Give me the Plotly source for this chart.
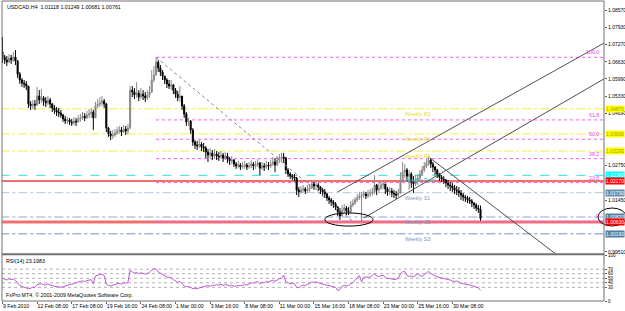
import plotly.graph_objects as go

# ---------------- data ----------------
date_labels = ["9 Feb 2010", "12 Feb 08:00", "17 Feb 08:00", "19 Feb 16:00", "24 Feb 08:00",
               "1 Mar 00:00", "3 Mar 16:00", "8 Mar 08:00", "11 Mar 00:00", "15 Mar 16:00",
               "18 Mar 08:00", "23 Mar 00:00", "25 Mar 16:00", "30 Mar 08:00"]
date_label_bars = [0, 16, 32, 48, 64, 80, 96, 112, 128, 144, 160, 176, 192, 208]

price_ticks = [1.08570, 1.07930, 1.07270, 1.06630, 1.05990, 1.05330, 1.04690, 1.02750, 1.01450, 0.99510]

first_open = 1.0700
last_open = 1.01118

closes = [
    1.0681, 1.0670, 1.0662, 1.0677, 1.0670, 1.0681, 1.0666, 1.0617, 1.0595, 1.0584,
    1.0580, 1.0572, 1.0505, 1.0498, 1.0505, 1.0501, 1.0535, 1.0520, 1.0528, 1.0516,
    1.0509, 1.0520, 1.0505, 1.0490, 1.0483, 1.0475, 1.0471, 1.0464, 1.0449, 1.0441,
    1.0445, 1.0438, 1.0434, 1.0441, 1.0438, 1.0449, 1.0453, 1.0460, 1.0453, 1.0464,
    1.0468, 1.0475, 1.0453, 1.0498, 1.0505, 1.0509, 1.0516, 1.0505, 1.0415, 1.0393,
    1.0385, 1.0389, 1.0396, 1.0404, 1.0408, 1.0400, 1.0411, 1.0404, 1.0415, 1.0557,
    1.0550, 1.0539, 1.0546, 1.0531, 1.0542, 1.0535, 1.0528, 1.0539, 1.0550, 1.0595,
    1.0614, 1.0662, 1.0640, 1.0625, 1.0610, 1.0595, 1.0580, 1.0572, 1.0576, 1.0557,
    1.0542, 1.0528, 1.0535, 1.0498, 1.0468, 1.0438, 1.0441, 1.0408, 1.0363, 1.0352,
    1.0348, 1.0355, 1.0344, 1.0340, 1.0325, 1.0314, 1.0322, 1.0310, 1.0318, 1.0310,
    1.0307, 1.0314, 1.0303, 1.0310, 1.0299, 1.0292, 1.0295, 1.0280, 1.0273, 1.0277,
    1.0269, 1.0273, 1.0277, 1.0269, 1.0273, 1.0280, 1.0273, 1.0277, 1.0284, 1.0265,
    1.0273, 1.0269, 1.0277, 1.0273, 1.0280, 1.0288, 1.0277, 1.0295, 1.0303, 1.0307,
    1.0303, 1.0258, 1.0243, 1.0235, 1.0232, 1.0228, 1.0183, 1.0176, 1.0183, 1.0187,
    1.0179, 1.0187, 1.0191, 1.0206, 1.0198, 1.0202, 1.0194, 1.0183, 1.0176, 1.0168,
    1.0153, 1.0146, 1.0138, 1.0131, 1.0119, 1.0101, 1.0086, 1.0108, 1.0116, 1.0104,
    1.0101, 1.0127, 1.0134, 1.0146, 1.0153, 1.0161, 1.0164, 1.0168, 1.0161, 1.0168,
    1.0172, 1.0176, 1.0202, 1.0183, 1.0191, 1.0202, 1.0206, 1.0187, 1.0176, 1.0179,
    1.0172, 1.0168, 1.0164, 1.0172, 1.0221, 1.0250, 1.0258, 1.0235, 1.0243, 1.0213,
    1.0206, 1.0221, 1.0228, 1.0243, 1.0258, 1.0273, 1.0284, 1.0295, 1.0280, 1.0269,
    1.0258, 1.0243, 1.0232, 1.0224, 1.0221, 1.0209, 1.0202, 1.0198, 1.0191, 1.0183,
    1.0179, 1.0172, 1.0164, 1.0157, 1.0153, 1.0146, 1.0142, 1.0134, 1.0127, 1.0116,
    1.0112, 1.00761]

highs = [
    1.0756, 1.0689, 1.0685, 1.0692, 1.0689, 1.0700, 1.0707, 1.0670, 1.0625, 1.0602,
    1.0595, 1.0591, 1.0572, 1.0516, 1.0520, 1.0520, 1.0569, 1.0557, 1.0561, 1.0535,
    1.0531, 1.0535, 1.0528, 1.0509, 1.0501, 1.0494, 1.0490, 1.0483, 1.0468, 1.0460,
    1.0456, 1.0453, 1.0449, 1.0456, 1.0453, 1.0464, 1.0468, 1.0475, 1.0471, 1.0479,
    1.0486, 1.0490, 1.0483, 1.0513, 1.0524, 1.0531, 1.0535, 1.0524, 1.0509, 1.0419,
    1.0404, 1.0408, 1.0411, 1.0419, 1.0423, 1.0419, 1.0426, 1.0423, 1.0430, 1.0572,
    1.0572, 1.0565, 1.0587, 1.0557, 1.0565, 1.0557, 1.0550, 1.0557, 1.0572, 1.0632,
    1.0647, 1.0680, 1.0670, 1.0651, 1.0632, 1.0610, 1.0602, 1.0595, 1.0595, 1.0580,
    1.0565, 1.0554, 1.0572, 1.0535, 1.0505, 1.0475, 1.0453, 1.0445, 1.0415, 1.0370,
    1.0367, 1.0370, 1.0363, 1.0359, 1.0348, 1.0337, 1.0340, 1.0333, 1.0337, 1.0329,
    1.0325, 1.0329, 1.0322, 1.0325, 1.0322, 1.0307, 1.0310, 1.0299, 1.0288, 1.0292,
    1.0284, 1.0288, 1.0292, 1.0284, 1.0288, 1.0295, 1.0288, 1.0292, 1.0299, 1.0288,
    1.0288, 1.0284, 1.0292, 1.0288, 1.0295, 1.0307, 1.0303, 1.0310, 1.0318, 1.0322,
    1.0322, 1.0307, 1.0265, 1.0250, 1.0243, 1.0243, 1.0232, 1.0194, 1.0198, 1.0202,
    1.0194, 1.0202, 1.0206, 1.0221, 1.0213, 1.0217, 1.0209, 1.0198, 1.0191, 1.0187,
    1.0172, 1.0161, 1.0153, 1.0146, 1.0138, 1.0123, 1.0116, 1.0127, 1.0131, 1.0123,
    1.0119, 1.0142, 1.0149, 1.0157, 1.0168, 1.0176, 1.0176, 1.0179, 1.0176, 1.0183,
    1.0187, 1.0191, 1.0239, 1.0206, 1.0209, 1.0217, 1.0217, 1.0206, 1.0194, 1.0194,
    1.0191, 1.0183, 1.0179, 1.0187, 1.0250, 1.0288, 1.0280, 1.0265, 1.0258, 1.0250,
    1.0235, 1.0239, 1.0243, 1.0258, 1.0273, 1.0288, 1.0299, 1.0307, 1.0303, 1.0288,
    1.0273, 1.0262, 1.0247, 1.0239, 1.0235, 1.0224, 1.0221, 1.0213, 1.0209, 1.0202,
    1.0198, 1.0194, 1.0183, 1.0172, 1.0164, 1.0161, 1.0157, 1.0149, 1.0138, 1.0134,
    1.0127, 1.01249]

lows = [
    1.0659, 1.0655, 1.0647, 1.0659, 1.0655, 1.0662, 1.0651, 1.0602, 1.0580, 1.0569,
    1.0565, 1.0557, 1.0490, 1.0483, 1.0486, 1.0483, 1.0498, 1.0505, 1.0509, 1.0498,
    1.0494, 1.0501, 1.0490, 1.0475, 1.0468, 1.0460, 1.0456, 1.0453, 1.0438, 1.0430,
    1.0430, 1.0426, 1.0423, 1.0426, 1.0423, 1.0434, 1.0438, 1.0445, 1.0441, 1.0449,
    1.0453, 1.0453, 1.0408, 1.0453, 1.0490, 1.0494, 1.0498, 1.0490, 1.0400, 1.0382,
    1.0370, 1.0374, 1.0382, 1.0389, 1.0393, 1.0385, 1.0396, 1.0389, 1.0393, 1.0411,
    1.0531, 1.0524, 1.0528, 1.0516, 1.0524, 1.0520, 1.0513, 1.0520, 1.0528, 1.0546,
    1.0587, 1.0610, 1.0625, 1.0610, 1.0595, 1.0580, 1.0565, 1.0561, 1.0557, 1.0542,
    1.0528, 1.0516, 1.0513, 1.0483, 1.0453, 1.0423, 1.0423, 1.0393, 1.0348, 1.0337,
    1.0333, 1.0340, 1.0329, 1.0325, 1.0303, 1.0288, 1.0303, 1.0295, 1.0299, 1.0295,
    1.0292, 1.0299, 1.0288, 1.0295, 1.0284, 1.0277, 1.0280, 1.0269, 1.0262, 1.0265,
    1.0258, 1.0262, 1.0262, 1.0258, 1.0262, 1.0265, 1.0258, 1.0262, 1.0269, 1.0239,
    1.0258, 1.0254, 1.0262, 1.0258, 1.0265, 1.0273, 1.0250, 1.0273, 1.0284, 1.0288,
    1.0284, 1.0243, 1.0232, 1.0224, 1.0221, 1.0217, 1.0164, 1.0157, 1.0168, 1.0172,
    1.0168, 1.0172, 1.0176, 1.0187, 1.0183, 1.0183, 1.0179, 1.0168, 1.0161, 1.0153,
    1.0142, 1.0131, 1.0123, 1.0116, 1.0108, 1.0086, 1.0071, 1.0084, 1.0097, 1.0089,
    1.0089, 1.0098, 1.0119, 1.0127, 1.0138, 1.0146, 1.0063, 1.0153, 1.0149, 1.0153,
    1.0157, 1.0161, 1.0168, 1.0164, 1.0172, 1.0183, 1.0187, 1.0168, 1.0161, 1.0164,
    1.0157, 1.0153, 1.0149, 1.0157, 1.0168, 1.0213, 1.0228, 1.0213, 1.0183, 1.0191,
    1.0172, 1.0198, 1.0202, 1.0221, 1.0235, 1.0250, 1.0265, 1.0273, 1.0265, 1.0250,
    1.0239, 1.0228, 1.0217, 1.0213, 1.0206, 1.0194, 1.0187, 1.0179, 1.0176, 1.0168,
    1.0164, 1.0157, 1.0146, 1.0142, 1.0138, 1.0134, 1.0131, 1.0119, 1.0112, 1.0104,
    1.0097, 1.00681]

rsi = [
    50, 48, 46, 49, 47, 48, 45, 40, 34, 32,
    30, 29, 27, 28, 30, 30, 36, 37, 38, 36,
    35, 38, 35, 34, 32, 32, 31, 30, 31, 33,
    35, 36, 37, 38, 40, 42, 43, 44, 43, 45,
    46, 47, 38, 55, 57, 58, 59, 56, 37, 34,
    33, 35, 37, 38, 39, 37, 40, 39, 41, 68,
    64, 61, 63, 60, 62, 60, 59, 61, 63, 68,
    71, 70, 64, 61, 58, 56, 53, 52, 51, 47,
    44, 41, 43, 37, 33, 31, 32, 30, 27, 28,
    27, 29, 30, 31, 33, 34, 32, 35, 34, 36,
    35, 37, 34, 36, 35, 33, 35, 32, 33, 34,
    33, 35, 36, 35, 37, 40, 39, 41, 43, 38,
    41, 40, 43, 42, 44, 46, 43, 47, 49, 50,
    57, 42, 40, 38, 39, 38, 30, 29, 33, 35,
    34, 37, 38, 42, 41, 42, 40, 38, 37, 36,
    35, 33, 32, 31, 30, 23, 25, 32, 34, 33,
    34, 38, 40, 46, 50, 56, 42, 52, 53, 52,
    53, 56, 61, 55, 54, 56, 57, 52, 49, 50,
    48, 47, 48, 50, 60, 64, 65, 56, 54, 55,
    53, 57, 60, 56, 54, 58, 62, 65, 61, 57,
    55, 53, 52, 51, 50, 48, 47, 46, 44, 43,
    44, 41, 39, 38, 37, 36, 36, 34, 32, 30,
    29, 23.1983]

rsi_levels = [30, 40, 50, 60, 70]
rsi_ticks = [0, 30, 40, 50, 60, 70, 100]

# Fibonacci retracement (anchor bars and prices)
fib_bars = [71, 162]
fib_prices = [1.0680, 1.0066]
fib_levels = [0.0, 23.6, 38.2, 50.0, 61.8, 100.0]
fib_texts = ["0", "23.6", "38.2", "50.0", "61.8", "100.0"]

# Weekly pivots
pivot_names = ["Weekly R3", "Weekly R2", "Weekly R1", "Weekly Pivot", "Weekly S1", "Weekly S2", "Weekly S3"]
pivot_prices = [1.0487, 1.0393, 1.0329, 1.0238, 1.0173, 1.0082, 1.0019]
pivot_label_text = ["1.04870", "1.03930", "1.03290", "1.02380", "1.01730", "1.00820", "1.00190"]

# horizontal red lines
red_prices = [1.0217, 1.0063]
red_label_text = ["1.02170", "1.00630"]

# trend channel & trendline anchors
chan_up_bars = [155, 278.1]
chan_up_prices = [1.0176, 1.0733]
chan_lo_bars = [167, 278.1]
chan_lo_prices = [1.0078, 1.0599]
down_bars = [197, 262]
down_prices = [1.0307, 0.9905]
ellipse_bars = [149, 171.3]
ellipse_prices = [1.0048, 1.0097]

# ---------------- figure ----------------
n = len(closes)
bars = list(range(n))
opens = [first_open] + closes[:-1]
opens[-1] = last_open

FONT = "Liberation Sans"
TXT = 5.3
fig = go.Figure()

fig.add_trace(go.Candlestick(
    x=bars, open=opens, high=highs, low=lows, close=closes,
    increasing=dict(line=dict(color="#8a8a8a", width=1), fillcolor="#8a8a8a"),
    decreasing=dict(line=dict(color="#000000", width=1), fillcolor="#000000"),
    whiskerwidth=0, xaxis="x", yaxis="y", hoverinfo="skip", showlegend=False))

XMAX = 278.1
shapes = []

# pivot lines
piv_colors = ["#eeee44", "#eeee44", "#eeee44", "#33dddd", "#b4c8dc", "#8fa9c6", "#6f96cc"]
piv_dash = ["dashdot", "dashdot", "dashdot", "dash", "dashdot", "dashdot", "dashdot"]
for p, c, d in zip(pivot_prices, piv_colors, piv_dash):
    shapes.append(dict(type="line", xref="x", yref="y", x0=-1, x1=XMAX, y0=p, y1=p,
                       line=dict(color=c, width=1, dash=d), layer="below"))
# red lines
for p, w in zip(red_prices, [2, 3]):
    shapes.append(dict(type="line", xref="x", yref="y", x0=-1, x1=XMAX, y0=p, y1=p,
                       line=dict(color="#f07070", width=w), layer="below"))
# fib levels
fib_range = fib_prices[0] - fib_prices[1]
for lv in fib_levels:
    p = fib_prices[1] + fib_range * lv / 100.0
    shapes.append(dict(type="line", xref="x", yref="y", x0=fib_bars[0], x1=XMAX, y0=p, y1=p,
                       line=dict(color="#f060f0", width=1, dash="dot"), layer="below"))
# RSI levels
for lv in rsi_levels:
    shapes.append(dict(type="line", xref="paper", yref="y2", x0=0, x1=1, y0=lv, y1=lv,
                       line=dict(color="#b0b0b0", width=1, dash="dot"), layer="below"))
# ellipses
shapes.append(dict(type="circle", xref="x", yref="y", x0=ellipse_bars[0], x1=ellipse_bars[1],
                   y0=ellipse_prices[0], y1=ellipse_prices[1], line=dict(color="#000000", width=1)))
shapes.append(dict(type="circle", xref="paper", yref="paper", x0=0.990, x1=1.037,
                   y0=0.250, y1=0.310, line=dict(color="#000000", width=1)))
# frame and separator
shapes.append(dict(type="rect", xref="paper", yref="paper", x0=0, x1=1, y0=0, y1=1,
                   line=dict(color="#707070", width=1)))
shapes.append(dict(type="line", xref="paper", yref="paper", x0=0, x1=1, y0=0.1555, y1=0.1555,
                   line=dict(color="#707070", width=2)))

# trend lines
fig.add_trace(go.Scatter(x=fib_bars, y=fib_prices, mode="lines", xaxis="x", yaxis="y",
                         line=dict(color="#8080a8", width=1, dash="dot"), hoverinfo="skip", showlegend=False))
for bx, py in [(chan_up_bars, chan_up_prices), (chan_lo_bars, chan_lo_prices), (down_bars, down_prices)]:
    fig.add_trace(go.Scatter(x=bx, y=py, mode="lines", xaxis="x", yaxis="y",
                             line=dict(color="#505050", width=1), hoverinfo="skip", showlegend=False))

# RSI
fig.add_trace(go.Scatter(x=bars, y=rsi, mode="lines", xaxis="x2", yaxis="y2",
                         line=dict(color="#c455d8", width=1), hoverinfo="skip", showlegend=False))

ann = []
ann.append(dict(text="USDCAD,H4  1.01118 1.01249 1.00681 1.00761", xref="paper", yref="paper",
                x=0, y=1, xanchor="left", yanchor="top", xshift=3, yshift=-1, showarrow=False,
                font=dict(size=TXT, color="#000000", family=FONT)))
ann.append(dict(text="RSI(14) 23.1983", xref="paper", yref="paper", x=0, y=0.152,
                xanchor="left", yanchor="top", xshift=2, yshift=-1, showarrow=False,
                font=dict(size=TXT, color="#000000", family=FONT)))
ann.append(dict(text="FxPro MT4, \u00a9 2001-2009 MetaQuotes Software Corp.", xref="paper", yref="paper",
                x=0, y=0, xanchor="left", yanchor="bottom", xshift=2, yshift=1, showarrow=False,
                font=dict(size=TXT, color="#000000", family=FONT)))
# pivot text labels
piv_txt_colors = ["#e0e030", "#e0e030", "#e0e030", "#30c8c8", "#7a9cbc", "#7a9cbc", "#6f96cc"]
for name, p, c in zip(pivot_names, pivot_prices, piv_txt_colors):
    ann.append(dict(text=name, xref="x", yref="y", x=185.2, y=p, xanchor="left", yanchor="top",
                    showarrow=False, font=dict(size=TXT, color=c, family=FONT)))
# fib texts
for lv, t in zip(fib_levels, fib_texts):
    p = fib_prices[1] + fib_range * lv / 100.0
    ann.append(dict(text=t, xref="paper", yref="y", x=1, y=p, xanchor="right", yanchor="bottom",
                    xshift=-3, showarrow=False, font=dict(size=TXT, color="#f040f0", family=FONT)))
# price boxes on the right scale
box_bg = ["#ffff00", "#ffff00", "#ffff00", "#00ffff", "#5f8fb0", "#4f7f9f", "#4f7f9f"]
box_fg = ["#a0a000", "#a0a000", "#a0a000", "#ffffff", "#ffffff", "#ffffff", "#ffffff"]
for t, p, bg, fg in zip(pivot_label_text, pivot_prices, box_bg, box_fg):
    ann.append(dict(text=t, xref="paper", yref="y", x=1, y=p, xanchor="left", yanchor="middle",
                    xshift=1, showarrow=False, bgcolor=bg, borderpad=0,
                    font=dict(size=5, color=fg, family=FONT)))
for t, p in zip(red_label_text, red_prices):
    ann.append(dict(text=t, xref="paper", yref="y", x=1, y=p, xanchor="left", yanchor="middle",
                    xshift=1, showarrow=False, bgcolor="#ff0000", borderpad=0,
                    font=dict(size=5, color="#ffffff", family=FONT)))

fig.update_layout(
    width=625, height=311,
    margin=dict(l=2, r=21, t=1, b=10, pad=0, autoexpand=False),
    paper_bgcolor="#ffffff", plot_bgcolor="#ffffff",
    showlegend=False,
    shapes=shapes, annotations=ann,
    xaxis=dict(domain=[0, 1], anchor="y", range=[-0.23, XMAX], showticklabels=False,
               showgrid=False, zeroline=False, ticks="", automargin=False,
               rangeslider=dict(visible=False)),
    xaxis2=dict(domain=[0, 1], anchor="y2", matches="x", range=[-0.23, XMAX],
                tickmode="array", tickvals=date_label_bars, ticktext=date_labels,
                ticks="outside", ticklen=2, tickcolor="#606060", tickangle=0,
                ticklabelposition="outside right", automargin=False,
                tickfont=dict(size=5.2, color="#000000", family=FONT),
                showgrid=False, zeroline=False, rangeslider=dict(visible=False)),
    yaxis=dict(domain=[0.1567, 1], anchor="x", range=[0.99435, 1.08907], side="right",
               tickmode="array", tickvals=price_ticks, ticktext=["%.5f" % v for v in price_ticks],
               ticks="outside", ticklen=2, tickcolor="#606060", automargin=False,
               tickfont=dict(size=5, color="#000000", family=FONT),
               showgrid=False, zeroline=False),
    yaxis2=dict(domain=[0, 0.1517], anchor="x2", range=[0, 100], side="right",
                tickmode="array", tickvals=rsi_ticks, automargin=False,
                ticks="outside", ticklen=2, tickcolor="#606060",
                tickfont=dict(size=4.5, color="#000000", family=FONT),
                showgrid=False, zeroline=False),
)

fig.write_html("out.html")
